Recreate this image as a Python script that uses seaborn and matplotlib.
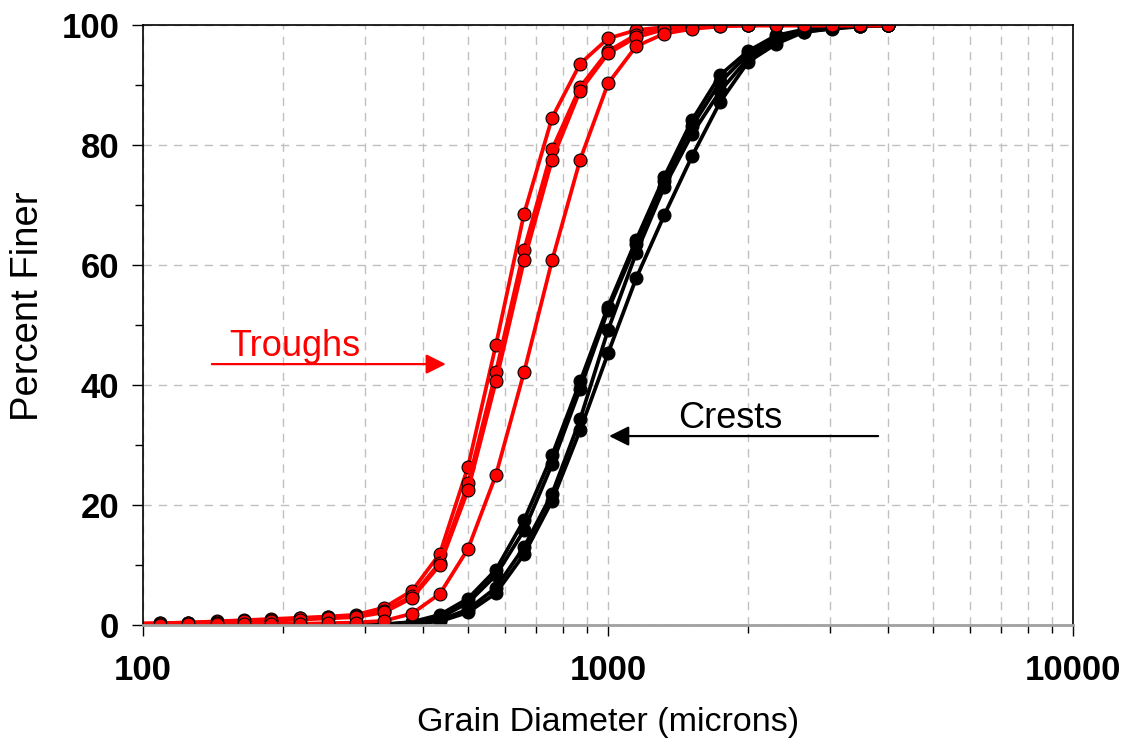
import numpy as np
import pandas as pd
import matplotlib
matplotlib.use("Agg")
import matplotlib.pyplot as plt
from matplotlib.ticker import LogLocator, FixedLocator, FixedFormatter, NullFormatter
import seaborn as sns

# sieve sizes (microns), 1/5 phi steps
sizes = [4000, 3482, 3031, 2639, 2297, 2000, 1741, 1516, 1320, 1149, 1000, 871, 758,
         660, 574, 500, 435, 379, 330, 287, 250, 218, 189, 165, 144, 125, 109, 95]

# percent finer, troughs (red)
trough_1 = [100, 100, 100, 100, 100, 100, 100, 99.9, 99.7, 99.2, 97.8, 93.6, 84.6,
            68.6, 46.7, 26.4, 11.9, 5.7, 2.9, 1.7, 1.4, 1.2, 1.0, 0.8, 0.6, 0.4, 0.3, 0.2]
trough_2 = [100, 100, 100, 100, 100, 100, 100, 99.8, 99.5, 98.4, 95.7, 89.7, 79.3,
            62.6, 42.2, 23.6, 10.4, 4.8, 2.4, 1.5, 1.3, 1.1, 0.9, 0.7, 0.5, 0.4, 0.3, 0.2]
trough_3 = [100, 100, 100, 100, 100, 100, 99.9, 99.7, 99.3, 98.0, 95.3, 89.1, 77.6,
            60.8, 40.6, 22.5, 10.0, 4.5, 2.1, 1.3, 1.1, 0.9, 0.7, 0.6, 0.4, 0.3, 0.2, 0.1]
trough_4 = [100, 100, 100, 100, 100, 100, 99.8, 99.4, 98.6, 96.5, 90.3, 77.6, 60.8,
            42.2, 25.0, 12.7, 5.2, 1.9, 0.7, 0.4, 0.3, 0.2, 0.2, 0.1, 0.1, 0.1, 0.0, 0.0]

# percent finer, crests (black)
crest_1 = [100, 99.9, 99.7, 99.3, 98.3, 95.7, 91.7, 84.2, 74.7, 64.2, 53.1, 40.6, 28.3,
           17.5, 9.2, 4.4, 1.7, 0.5, 0.1, 0, 0, 0, 0, 0, 0, 0, 0, 0]
crest_2 = [100, 99.9, 99.6, 99.1, 97.9, 95.2, 90.5, 83.2, 74.0, 63.5, 52.5, 39.4, 26.8,
           15.8, 8.3, 3.7, 1.2, 0.4, 0.1, 0, 0, 0, 0, 0, 0, 0, 0, 0]
crest_3 = [100, 99.9, 99.5, 98.9, 97.5, 94.5, 89.0, 81.9, 73.0, 62.0, 49.2, 34.3, 21.9,
           13.0, 6.2, 2.6, 0.8, 0.3, 0.1, 0, 0, 0, 0, 0, 0, 0, 0, 0]
crest_4 = [100, 99.8, 99.4, 98.9, 96.9, 93.9, 87.2, 78.2, 68.3, 57.8, 45.3, 32.5, 20.7,
           11.8, 5.3, 2.1, 0.6, 0.2, 0.0, 0, 0, 0, 0, 0, 0, 0, 0, 0]

curves = {"C1": crest_1, "C2": crest_2, "C3": crest_3, "C4": crest_4,
          "T1": trough_1, "T2": trough_2, "T3": trough_3, "T4": trough_4}
colors = {k: ("black" if k.startswith("C") else "#ff0000") for k in curves}

rows = []
for name, vals in curves.items():
    for d, p in zip(sizes, vals):
        rows.append({"curve": name, "size": d, "finer": p})
df = pd.DataFrame(rows)

sns.set_style("white")
plt.rcParams["font.family"] = ["Liberation Sans", "DejaVu Sans"]
plt.rcParams["text.color"] = "black"
plt.rcParams["axes.labelcolor"] = "black"
plt.rcParams["xtick.color"] = "black"
plt.rcParams["ytick.color"] = "black"

fig, ax = plt.subplots(figsize=(11.25, 7.44), dpi=100)
fig.subplots_adjust(left=0.127, right=0.954, top=0.966, bottom=0.16)

sns.lineplot(data=df, x="size", y="finer", hue="curve", palette=colors,
             hue_order=list(curves.keys()), estimator=None, sort=False,
             marker="o", markersize=9.3, markeredgecolor="black",
             markeredgewidth=0.8, linewidth=2.7, legend=False, ax=ax)

ax.set_xscale("log")
ax.set_xlim(100, 10000)
ax.set_ylim(0, 100)

ax.xaxis.set_major_locator(FixedLocator([100, 1000, 10000]))
ax.xaxis.set_major_formatter(FixedFormatter(["100", "1000", "10000"]))
ax.xaxis.set_minor_locator(LogLocator(base=10, subs=np.arange(2, 10)))
ax.xaxis.set_minor_formatter(NullFormatter())
ax.set_yticks([0, 20, 40, 60, 80, 100])
ax.yaxis.set_minor_locator(FixedLocator([10, 30, 50, 70, 90]))

ax.grid(True, which="both", axis="x", color="#c0c0c0", linestyle=(0, (6, 5)), linewidth=1)
ax.grid(True, which="major", axis="y", color="#c0c0c0", linestyle=(0, (6, 5)), linewidth=1)
ax.set_axisbelow(True)

ax.tick_params(axis="both", which="major", direction="out", length=8, width=1,
               color="black", labelcolor="black", labelsize=25, bottom=True, left=True)
ax.tick_params(axis="both", which="minor", direction="out", length=6, width=1,
               color="black", bottom=True, left=True)
ax.tick_params(axis="x", which="major", pad=13)
ax.tick_params(axis="y", which="major", pad=9)
for lab in ax.get_xticklabels() + ax.get_yticklabels():
    lab.set_fontweight("bold")

for s in ["top", "left", "right"]:
    ax.spines[s].set_color("black")
    ax.spines[s].set_linewidth(1.2)
ax.spines["bottom"].set_color("#a0a0a0")
ax.spines["bottom"].set_linewidth(2)

ax.set_xlabel("Grain Diameter (microns)", fontsize=24.5, labelpad=14, color="black")
ax.set_ylabel("Percent Finer", fontsize=27.5, color="black")
ax.yaxis.set_label_coords(-0.104, 0.532)

# annotations
ax.annotate("", xy=(448, 43.5), xytext=(140.7, 43.5),
            arrowprops=dict(arrowstyle="-|>,head_length=0.6,head_width=0.3",
                            color="#ff0000", lw=1.6, mutation_scale=20,
                            shrinkA=0, shrinkB=0))
ax.text(153, 44.8, "Troughs", color="#ff0000", fontsize=26, ha="left", va="baseline")

ax.annotate("", xy=(1005, 31.5), xytext=(3807, 31.5),
            arrowprops=dict(arrowstyle="-|>,head_length=0.6,head_width=0.3",
                            color="black", lw=1.6, mutation_scale=20,
                            shrinkA=0, shrinkB=0))
ax.text(1414, 32.8, "Crests", color="black", fontsize=26, ha="left", va="baseline")

fig.savefig("out.png", dpi=100)
